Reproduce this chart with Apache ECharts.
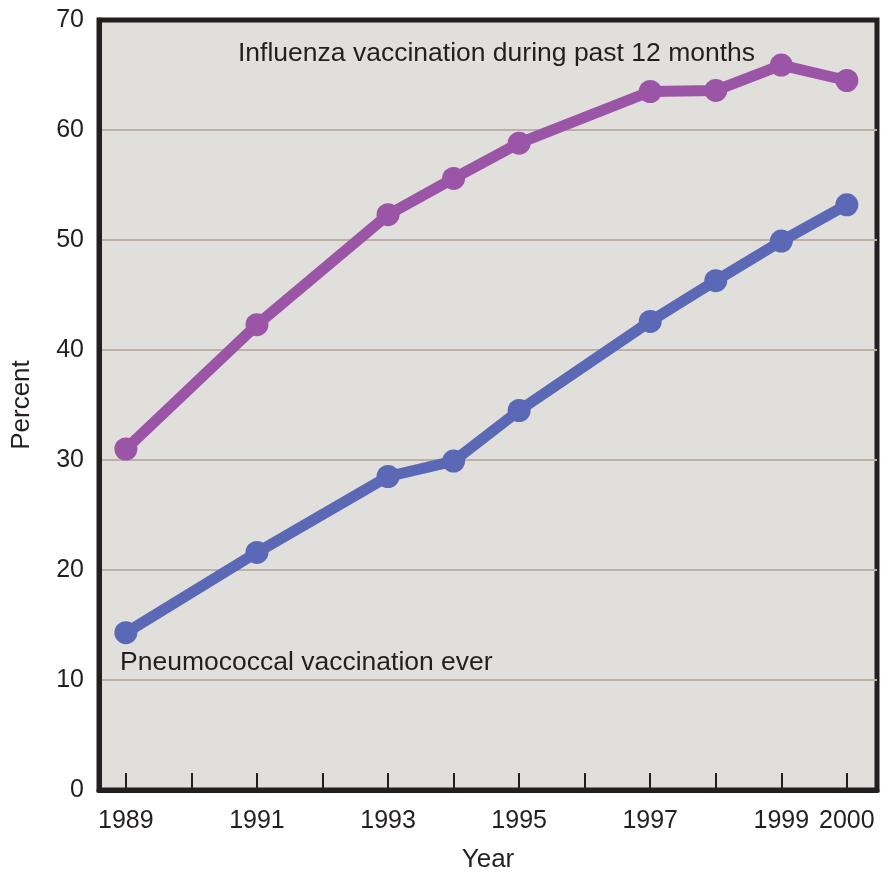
<!DOCTYPE html>
<html>
<head>
<meta charset="utf-8">
<script src="https://cdn.jsdelivr.net/npm/echarts@6/dist/echarts.min.js"></script>
<style>
    html, body { margin: 0; padding: 0; background: #fff; }
    #main { width: 888px; height: 873px; }
</style>
</head>
<body>
<div id="main"></div>
<script>
'use strict'
// vaccination chart data
var years = [1989, 1991, 1993, 1994, 1995, 1997, 1998, 1999, 2000];
var influenza = [31.0, 42.3, 52.3, 55.6, 58.8, 63.5, 63.6, 65.9, 64.5];
var pneumococcal = [14.3, 21.6, 28.5, 29.9, 34.5, 42.6, 46.3, 49.9, 53.2];
var tickYears = [1989, 1990, 1991, 1992, 1993, 1994, 1995, 1996, 1997, 1998, 1999, 2000];
var labelYears = [1989, 1991, 1993, 1995, 1997, 1999, 2000];

var font = 'Liberation Sans, Arial, sans-serif';
var textColor = '#231f20';

function pairs(xs, ys) {
    return xs.map(function (x, i) { return [x, ys[i]]; });
}

var option = {
    animation: false,
    backgroundColor: '#ffffff',
    grid: {
        left: 99,
        top: 20,
        width: 778,
        height: 770,
        outerBoundsMode: 'none',
        containLabel: false,
        show: true,
        backgroundColor: '#e0dfdb',
        borderColor: textColor,
        borderWidth: 5
    },
    xAxis: {
        type: 'value',
        min: 1988.59,
        max: 2000.46,
        name: 'Year',
        nameLocation: 'middle',
        nameGap: 57,
        nameTextStyle: { fontFamily: font, fontSize: 26, color: textColor },
        axisLine: { show: true, lineStyle: { color: textColor, width: 5 } },
        axisTick: {
            show: true,
            inside: true,
            length: 17,
            lineStyle: { color: textColor, width: 2 },
            customValues: tickYears
        },
        axisLabel: {
            fontFamily: font,
            fontSize: 25,
            color: textColor,
            margin: 19,
            customValues: labelYears,
            formatter: function (v) { return String(v); }
        },
        splitLine: { show: false }
    },
    yAxis: {
        type: 'value',
        min: 0,
        max: 70,
        interval: 10,
        name: 'Percent',
        nameLocation: 'middle',
        nameGap: 64,
        nameRotate: 90,
        nameTextStyle: { fontFamily: font, fontSize: 26, color: textColor },
        axisLine: { show: true, lineStyle: { color: textColor, width: 5 } },
        axisTick: { show: false },
        axisLabel: {
            fontFamily: font,
            fontSize: 25,
            color: textColor,
            margin: 15
        },
        splitLine: {
            show: true,
            showMinLine: false,
            showMaxLine: false,
            lineStyle: { color: '#bcb1a6', width: 2 }
        }
    },
    graphic: [
        {
            type: 'text',
            x: 238,
            y: 54,
            style: {
                text: 'Influenza vaccination during past 12 months',
                font: '26.5px ' + font,
                fill: textColor,
                verticalAlign: 'middle'
            }
        },
        {
            type: 'text',
            x: 120,
            y: 663,
            style: {
                text: 'Pneumococcal vaccination ever',
                font: '26.5px ' + font,
                fill: textColor,
                verticalAlign: 'middle'
            }
        }
    ],
    series: [
        {
            name: 'Influenza',
            type: 'line',
            data: pairs(years, influenza),
            symbol: 'circle',
            symbolSize: 23,
            lineStyle: { color: '#9b55a6', width: 11 },
            itemStyle: { color: '#9b55a6' }
        },
        {
            name: 'Pneumococcal',
            type: 'line',
            data: pairs(years, pneumococcal),
            symbol: 'circle',
            symbolSize: 23,
            lineStyle: { color: '#5a68b6', width: 11 },
            itemStyle: { color: '#5a68b6' }
        }
    ]
};

var myChart = echarts.init(document.getElementById('main'));
myChart.setOption(option);
</script>
</body>
</html>
